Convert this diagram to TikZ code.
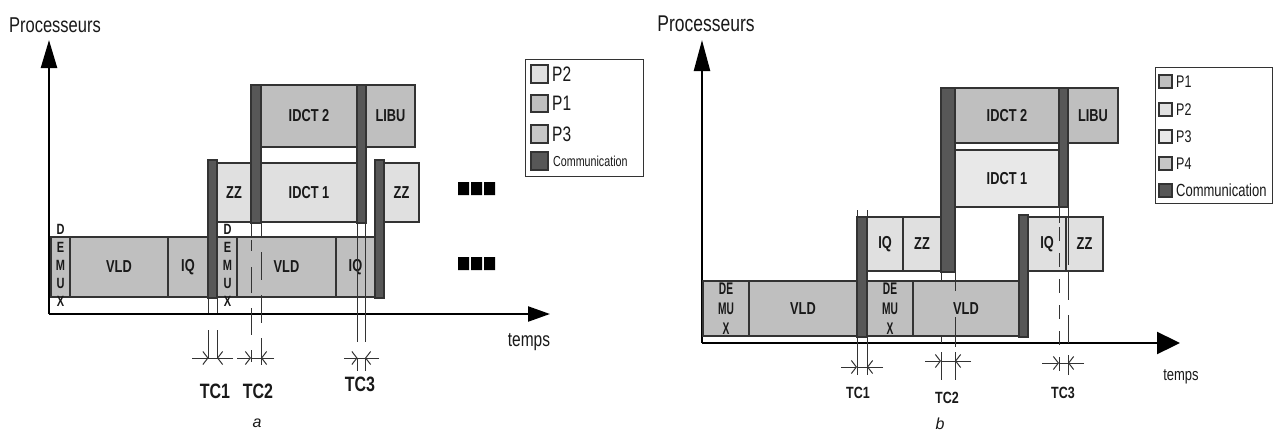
\documentclass[tikz,border=0pt]{standalone}
\usepackage{fontspec}
\setmainfont{Liberation Sans}
\usetikzlibrary{arrows.meta}
\definecolor{lt}{gray}{0.88}
\definecolor{lt2}{gray}{0.91}
\definecolor{md}{gray}{0.75}
\definecolor{md2}{gray}{0.78}
\definecolor{cm}{gray}{0.34}
\definecolor{ol}{gray}{0.2}
\definecolor{txt}{gray}{0.1}
\newcommand\st[2][1.35]{\scalebox{1}[#1]{#2}}
\newcommand\mybox[7]{\node[bx,fill=#2,minimum width={#5-#3},minimum height={#6-#4}] (#1) at (#3,#4) {#7};}
\newcommand\mycomm[5]{\node[bx,fill=cm,minimum width={#4-#2},minimum height={#5-#3}] (#1) at (#2,#3) {};}
\begin{document}
\begin{tikzpicture}[x=1pt,y=-1pt,
  bx/.style={draw=ol,line width=1.3pt,inner sep=0pt,outer sep=0pt,anchor=north west,
    font=\fontsize{12.8}{12.8}\selectfont\bfseries,text=txt},
  axis/.style={line width=2.3pt,black},
  dim/.style={line width=1pt,ol},
  tca/.style={dim,-{Straight Barb[length=5pt,width=13pt]}},
  dmx/.style={align=center,inner sep=0pt,text=txt,font=\fontsize{11}{18}\selectfont\bfseries},
  dmxb/.style={align=center,inner sep=0pt,text=txt,font=\fontsize{12}{20}\selectfont\bfseries},
  tcla/.style={inner sep=0pt,text=txt,font=\fontsize{16}{16}\selectfont\bfseries},
  tclb/.style={inner sep=0pt,text=txt,font=\fontsize{12.5}{12.5}\selectfont\bfseries},
  lgt/.style={anchor=west,inner sep=0pt,text=txt},
  sw/.style={bx,line width=1.1pt}
]
\useasboundingbox (0,0) rectangle (1275,434);
\fill[white] (0,0) rectangle (1275,434);

%================ diagram a ================
\node[inner sep=0pt,text=txt,font=\fontsize{16.5}{16.5}\selectfont] (proca) at (55,25) {\st[1.3]{Processeurs}};
\coordinate (oa) at (49,314);
\coordinate (yta) at (49,40);
\coordinate (xta) at (550,314);
\draw[axis,-{Triangle[length=28pt,width=16pt]}] (oa) -- (yta);
\draw[axis,-{Triangle[length=22pt,width=15pt]}] (oa) -- (xta);
\node[inner sep=0pt,text=txt,font=\fontsize{15.5}{15.5}\selectfont] (tempsa) at (529,342) {\st[1.3]{temps}};

% bottom row
\mybox{dmxa1}{md}{51}{237}{70}{297}{}
\mybox{vlda1}{md}{70}{237}{168}{297}{\st{VLD}}
\mybox{iqa1}{md}{168}{237}{208}{297}{\st{IQ}}
\mybox{dmxa2}{md}{217}{237}{237}{297}{}
\mybox{vlda2}{md}{237}{237}{336}{297}{\st{VLD}}
\mybox{iqa2}{md}{336}{237}{375}{297}{\st{IQ}}
% middle row
\mybox{zza1}{lt}{217}{163}{251}{222}{\st{ZZ}}
\mybox{idct1a}{lt}{261}{163}{357}{222}{\st{IDCT 1}}
\mybox{zza2}{lt}{384}{163}{419}{222}{\st{ZZ}}
% top row
\mybox{idct2a}{md}{261}{85}{357}{147}{\st{IDCT 2}}
\mybox{libua}{md}{366}{85}{415}{147}{\st{LIBU}}
% communications
\mycomm{c1a}{208}{160}{217}{298}
\mycomm{c2a}{251}{85}{261}{223}
\mycomm{c3a}{357}{85}{366}{223}
\mycomm{c4a}{375}{160}{384}{298}
% DEMUX letters
\node[dmx] (dmxa1t) at (60.5,265) {\st{D}\\\st{E}\\\st{M}\\\st{U}\\\st{X}};
\node[dmx] (dmxa2t) at (227.5,265) {\st{D}\\\st{E}\\\st{M}\\\st{U}\\\st{X}};
% white strip under c1a
\draw[dim] (c1a.south west) -- ++(0,15);
\draw[dim] (c1a.south east) -- ++(0,15);
% TC1
\draw[dim] (208.5,330) -- (208.5,359);
\draw[dim] (217,330) -- (217,359);
\draw[dim] (208.5,358) -- (217,358);
\draw[tca] (192,358) -- (208.5,358);
\draw[tca] (233,358) -- (217,358);
\node[tcla] (tc1a) at (215,391) {\st[1.3]{TC1}};
% TC2
\draw[dim] (251,223) -- (251,238) (251,240) -- (251,251) (251,267) -- (251,293) (251,308) -- (251,335) (251,350) -- (251,362);
\draw[dim] (261,223) -- (261,238) (261,252) -- (261,280) (261,295) -- (261,323) (261,338) -- (261,365);
\draw[dim] (251,358) -- (261,358);
\draw[tca] (237,358) -- (251,358);
\draw[tca] (274,358) -- (261,358);
\node[tcla] (tc2a) at (258,391) {\st[1.3]{TC2}};
% TC3
\draw[dim] (357.5,223) -- (357.5,342) (357.5,358) -- (357.5,371);
\draw[dim] (365,223) -- (365,342) (365,358) -- (365,371);
\draw[dim] (357.5,358) -- (365,358);
\draw[tca] (344,358) -- (357.5,358);
\draw[tca] (379,358) -- (365,358);
\node[tcla] (tc3a) at (360,384) {\st[1.3]{TC3}};
% dots
\fill[black] (458,182) rectangle (469,195) (471,182) rectangle (482,195) (484,182) rectangle (495,195);
\fill[black] (458,257) rectangle (469,270) (471,257) rectangle (482,270) (484,257) rectangle (495,270);
% legend a
\node[draw=ol,line width=1.3pt,anchor=north west,inner sep=0pt,minimum width=118,minimum height=117] (lega) at (525,59) {};
\mybox{la1}{lt}{531}{65}{548}{83}{}
\mybox{la2}{md}{531}{95}{548}{112}{}
\mybox{la3}{md2}{531}{125}{548}{143}{}
\mybox{la4}{cm}{531}{152}{548}{170}{}
\node[lgt,font=\fontsize{15.5}{15.5}\selectfont] (la1t) at (552,74) {\st{P2}};
\node[lgt,font=\fontsize{15.5}{15.5}\selectfont] (la2t) at (552,103.5) {\st{P1}};
\node[lgt,font=\fontsize{15.5}{15.5}\selectfont] (la3t) at (552,134) {\st{P3}};
\node[lgt,font=\fontsize{10.7}{11}\selectfont] (la4t) at (553,161) {\st{Communication}};
\node[inner sep=0pt,text=txt,font=\fontsize{16}{16}\selectfont\itshape] (capa) at (257,423) {a};

%================ diagram b ================
\node[inner sep=0pt,text=txt,font=\fontsize{17.5}{17.5}\selectfont] (procb) at (706,24) {\st[1.3]{Processeurs}};
\coordinate (ob) at (702,343);
\coordinate (ytb) at (702,40);
\coordinate (xtb) at (1180,343);
\draw[axis,-{Triangle[length=31pt,width=16pt]}] (ob) -- (ytb);
\draw[axis,-{Triangle[length=23pt,width=22pt]}] (ob) -- (xtb);
\node[inner sep=0pt,text=txt,font=\fontsize{13}{13}\selectfont] (tempsb) at (1181,377) {\st[1.3]{temps}};

% bottom row
\mybox{dmxb1}{md}{703}{281}{749}{336}{}
\mybox{vldb1}{md}{749}{281}{857}{336}{\st{VLD}}
\mybox{dmxb2}{md}{867}{281}{913}{336}{}
\mybox{vldb2}{md}{913}{281}{1019}{336}{\st{VLD}}
% IQ ZZ rows
\mybox{iqb1}{lt}{867}{217}{903}{271}{\st{IQ}}
\mybox{zzb1}{lt}{903}{217}{941}{271}{\st{ZZ}}
\mybox{iqb2}{lt}{1028}{217}{1066}{271}{\st{IQ}}
\mybox{zzb2}{lt}{1066}{217}{1103}{271}{\st{ZZ}}
% IDCT rows
\mybox{idct2b}{md}{955}{88}{1059}{143}{\st{IDCT 2}}
\mybox{idct1b}{lt2}{955}{150}{1059}{207}{\st{IDCT 1}}
\mybox{libub}{md}{1068}{88}{1118}{143}{\st{LIBU}}
% communications
\mycomm{c1b}{857}{217}{867}{337}
\mycomm{c2b}{941}{88}{955}{272}
\mycomm{c3b}{1059}{88}{1068}{207}
\mycomm{c4b}{1019}{215}{1028}{337}
\draw[dim] (c1b.north west) -- ++(0,-7);
\draw[dim] (c1b.north east) -- ++(0,-7);
% DEMUX text
\node[dmxb] (dmxb1t) at (726,309) {\scalebox{0.85}[1.4]{DE}\\\scalebox{0.85}[1.4]{MU}\\\scalebox{0.85}[1.4]{X}};
\node[dmxb] (dmxb2t) at (890,309) {\scalebox{0.85}[1.4]{DE}\\\scalebox{0.85}[1.4]{MU}\\\scalebox{0.85}[1.4]{X}};
% TC1
\draw[dim] (857,337) -- (857,375);
\draw[dim] (867,337) -- (867,375);
\draw[dim] (857,367) -- (867,367);
\draw[tca] (841,367) -- (857,367);
\draw[tca] (883,367) -- (867,367);
\node[tclb] (tc1b) at (858,393) {\st[1.3]{TC1}};
% TC2
\draw[dim] (941,272) -- (941,282) (941,336) -- (941,343) (941,352) -- (941,380);
\draw[dim] (955,272) -- (955,291) (955,317) -- (955,347) (955,352) -- (955,380);
\draw[dim] (941,361) -- (955,361);
\draw[tca] (925,361) -- (941,361);
\draw[tca] (971,361) -- (955,361);
\node[tclb] (tc2b) at (947,398) {\st[1.3]{TC2}};
% TC3
\draw[dim] (1059,207) -- (1059,223);
\draw[dim,dash pattern=on 14pt off 12pt] (1059,227) -- (1059,380);
\draw[dim] (1068,207) -- (1068,265) (1068,272) -- (1068,300) (1068,315) -- (1068,343) (1068,355) -- (1068,375);
\draw[dim] (1059,363) -- (1068,363);
\draw[tca] (1042,363) -- (1059,363);
\draw[tca] (1084,363) -- (1068,363);
\node[tclb] (tc3b) at (1063,393) {\st[1.3]{TC3}};
% legend b
\node[draw=ol,line width=1.3pt,anchor=north west,inner sep=0pt,minimum width=117,minimum height=136] (legb) at (1155,67) {};
\mybox{lb1}{md}{1159}{75}{1172}{88}{}
\mybox{lb2}{lt}{1159}{103}{1172}{116}{}
\mybox{lb3}{lt2}{1159}{130}{1172}{143}{}
\mybox{lb4}{md2}{1159}{157}{1172}{170}{}
\mybox{lb5}{cm}{1159}{184}{1172}{197}{}
\node[lgt,font=\fontsize{12.5}{12.5}\selectfont] (lb1t) at (1176,81.5) {\st{P1}};
\node[lgt,font=\fontsize{12.5}{12.5}\selectfont] (lb2t) at (1176,109.5) {\st{P2}};
\node[lgt,font=\fontsize{12.5}{12.5}\selectfont] (lb3t) at (1176,136.5) {\st{P3}};
\node[lgt,font=\fontsize{12.5}{12.5}\selectfont] (lb4t) at (1176,163.5) {\st{P4}};
\node[lgt,font=\fontsize{13}{13}\selectfont] (lb5t) at (1176,190.5) {\st{Communication}};
\node[inner sep=0pt,text=txt,font=\fontsize{16}{16}\selectfont\itshape] (capb) at (940,424) {b};
\end{tikzpicture}
\end{document}
